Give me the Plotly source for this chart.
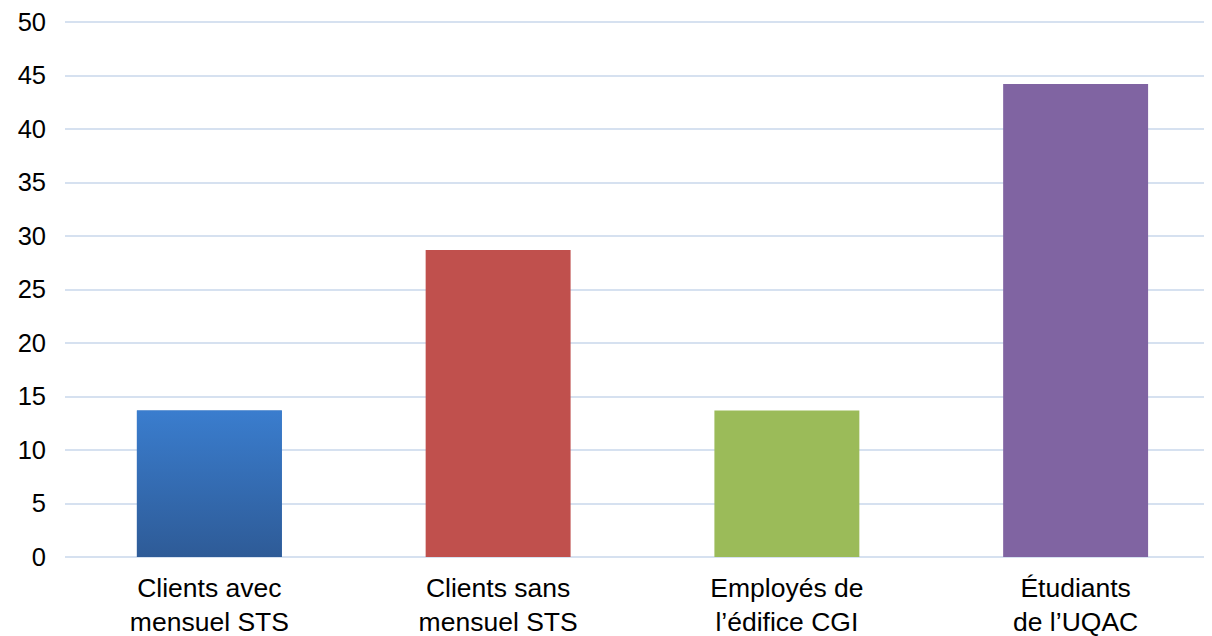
import plotly.graph_objects as go

categories = ["Clients avec<br>mensuel STS", "Clients sans<br>mensuel STS",
              "Employés de<br>l’édifice CGI", "Étudiants<br>de l’UQAC"]
values = [13.7, 28.7, 13.7, 44.2]
colors = ["#3470BA", "#C0504D", "#9BBB59", "#8064A2"]
y_ticks = [0, 5, 10, 15, 20, 25, 30, 35, 40, 45, 50]

bar_width = 0.502
xs = list(range(len(categories)))

fig = go.Figure()
fig.add_trace(go.Bar(x=xs, y=values, width=bar_width, marker=dict(color=colors, line=dict(width=0)),
                     hoverinfo="y"))

# vertical gradient overlay for the first (blue) bar
x0 = xs[0] - bar_width / 2
x1 = xs[0] + bar_width / 2
fig.add_trace(go.Scatter(
    x=[x0, x1, x1, x0, x0], y=[0, 0, values[0], values[0], 0],
    mode="lines", line=dict(width=0), fill="toself",
    fillgradient=dict(type="vertical", colorscale=[[0, "#2E5B97"], [1, "#3A7DCE"]]),
    hoverinfo="skip", showlegend=False))

fig.update_layout(
    width=1212, height=636,
    margin=dict(l=57, r=0, t=11, b=87),
    paper_bgcolor="white", plot_bgcolor="white",
    showlegend=False,
    font=dict(family="Liberation Sans, Arial, sans-serif", color="#000000", size=26),
    xaxis=dict(range=[-0.5, 3.5], tickvals=xs, ticktext=categories, showgrid=False,
               zeroline=False, showline=False, ticks="", tickfont=dict(size=26.5),
               ticklabelstandoff=12, ticklabeloverflow="allow"),
    yaxis=dict(range=[0, 50.28], tickvals=y_ticks, showgrid=True, gridcolor="#D6E1F0",
               gridwidth=1.5, zeroline=True, zerolinecolor="#D6E1F0", zerolinewidth=1.5,
               showline=False, ticks="", tickfont=dict(size=25.5), ticklabelstandoff=18,
               ticklabeloverflow="allow"),
)

fig.write_html("out.html")
